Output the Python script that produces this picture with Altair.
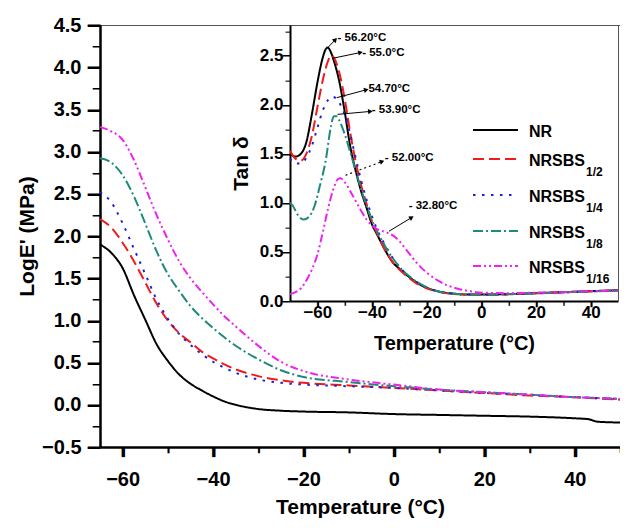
import math
import altair as alt
import pandas as pd

FONT = "Liberation Sans"
GLYPH_FONT = "DejaVu Sans"

SERIES = ["NR", "NRSBS1/2", "NRSBS1/4", "NRSBS1/8", "NRSBS1/16"]
LEG_MAIN = ["NR", "NRSBS", "NRSBS", "NRSBS", "NRSBS"]
LEG_SUB = ["", "1/2", "1/4", "1/8", "1/16"]
COLORS = ["#000000", "#ee1c1c", "#1f1fd6", "#1f8a7a", "#ee22ee"]
DASHES = [[1, 0], [11, 5], [2.5, 6.5], [10, 3, 2, 3], [8, 3, 2, 3, 2, 3]]

# ---------------- main panel: LogE' vs temperature ----------------
T_MAIN = [-65, -62.5, -60, -57.5, -55, -52.5, -50, -47.5, -45, -42.5, -40, -37.5, -35,
          -30, -25, -20, -10, 0, 10, 20, 30, 40, 43, 45, 50]
LOGE_NR = [1.90, 1.80, 1.62, 1.30, 1.01, 0.72, 0.52, 0.36, 0.25, 0.17, 0.10, 0.04, 0.00,
           -0.05, -0.07, -0.08, -0.09, -0.11, -0.12, -0.13, -0.14, -0.16, -0.17, -0.20, -0.21]
LOGE_12 = [2.20, 2.10, 1.92, 1.70, 1.45, 1.20, 1.00, 0.85, 0.74, 0.63, 0.55, 0.48, 0.42,
           0.34, 0.29, 0.26, 0.23, 0.20, 0.17, 0.14, 0.11, 0.09, 0.08, 0.075, 0.06]
LOGE_14 = [2.52, 2.40, 2.15, 1.85, 1.55, 1.25, 1.02, 0.84, 0.71, 0.60, 0.51, 0.44, 0.38,
           0.30, 0.26, 0.24, 0.22, 0.20, 0.17, 0.14, 0.12, 0.09, 0.085, 0.08, 0.07]
LOGE_18 = [2.92, 2.87, 2.72, 2.47, 2.15, 1.82, 1.55, 1.35, 1.17, 1.03, 0.91, 0.80, 0.70,
           0.54, 0.41, 0.33, 0.27, 0.22, 0.18, 0.15, 0.12, 0.09, 0.085, 0.08, 0.07]
LOGE_116 = [3.29, 3.24, 3.14, 2.90, 2.58, 2.25, 1.96, 1.70, 1.50, 1.34, 1.19, 1.05, 0.93,
            0.70, 0.51, 0.40, 0.30, 0.24, 0.18, 0.15, 0.12, 0.09, 0.085, 0.08, 0.07]

# ---------------- inset: tan delta vs temperature ----------------
TAIL_T = [-44, -42, -40, -38, -36, -34, -32, -30, -28, -26, -24, -22, -20, -16, -12, -8, -4,
          0, 10, 20, 30, 40, 50]
TAN_NR_T = [-70, -68, -66, -64, -62, -60, -58, -57, -56.2, -55, -54, -52, -50, -48, -46] + TAIL_T
TAN_NR = [1.50, 1.47, 1.50, 1.62, 1.90, 2.22, 2.48, 2.56, 2.58, 2.53, 2.45, 2.24, 1.93, 1.58, 1.33,
          1.12, 0.95, 0.78, 0.67, 0.56, 0.46, 0.38, 0.33, 0.28, 0.235, 0.195, 0.16, 0.135, 0.10,
          0.08, 0.07, 0.065, 0.065, 0.07, 0.08, 0.09, 0.10, 0.11]
TAN_12_T = [-70, -68, -66, -64, -62, -60, -58, -56, -55, -54, -52, -50, -48, -46] + TAIL_T
TAN_12 = [1.53, 1.45, 1.43, 1.50, 1.68, 1.97, 2.25, 2.45, 2.50, 2.48, 2.33, 2.06, 1.72, 1.42,
          1.18, 0.99, 0.81, 0.68, 0.56, 0.46, 0.38, 0.32, 0.27, 0.225, 0.185, 0.155, 0.13, 0.095,
          0.078, 0.068, 0.063, 0.063, 0.068, 0.078, 0.088, 0.098, 0.108]
TAN_14_T = [-70, -68, -66, -64, -62, -60, -58, -56, -54.7, -53, -52, -50, -48, -46] + TAIL_T
TAN_14 = [1.45, 1.40, 1.40, 1.46, 1.58, 1.76, 1.94, 2.05, 2.08, 2.06, 2.02, 1.90, 1.70, 1.46,
          1.23, 1.03, 0.86, 0.72, 0.61, 0.51, 0.42, 0.35, 0.29, 0.24, 0.20, 0.17, 0.14, 0.10,
          0.08, 0.07, 0.065, 0.065, 0.07, 0.078, 0.088, 0.098, 0.105]
TAN_18_T = [-70, -69, -67, -65, -63, -61, -59, -57, -55, -54, -53, -52, -50, -48, -46] + TAIL_T
TAN_18 = [1.00, 0.97, 0.87, 0.83, 0.86, 0.97, 1.18, 1.42, 1.78, 1.88, 1.88, 1.84, 1.70, 1.52, 1.33,
          1.14, 0.97, 0.82, 0.70, 0.60, 0.50, 0.42, 0.35, 0.29, 0.245, 0.20, 0.17, 0.14, 0.10,
          0.08, 0.07, 0.065, 0.065, 0.07, 0.078, 0.088, 0.098, 0.105]
TAN_116_T = [-70, -68, -66, -64, -62, -60, -58, -56, -54, -52.5, -51.5, -50, -48, -46] + TAIL_T
TAN_116 = [0.07, 0.09, 0.13, 0.21, 0.32, 0.47, 0.70, 0.95, 1.15, 1.24, 1.25, 1.21, 1.12, 1.02,
           0.92, 0.83, 0.77, 0.73, 0.71, 0.69, 0.66, 0.61, 0.54, 0.47, 0.40, 0.34, 0.29, 0.21,
           0.155, 0.12, 0.10, 0.085, 0.08, 0.085, 0.09, 0.10, 0.105]

# peak annotations (label, text anchor T/value, arrow tail T/value, arrow head T/value)
ANN_LABEL = ["- 56.20°C", "- 55.0°C", "54.70°C", "- 53.90°C", "- 52.00°C", "- 32.80°C"]
ANN_TX = [-52.6, -43.6, -41.3, -40.1, -35.3, -26.6]
ANN_TY = [2.68, 2.52, 2.16, 1.94, 1.46, 0.97]
ANN_X1 = [-56.5, -54.6, -52.9, -52.6, -49.7, -33.8]
ANN_Y1 = [2.57, 2.47, 2.07, 1.90, 1.28, 0.71]
ANN_X2 = [-53.4, -44.2, -42.1, -40.6, -36.3, -25.5]
ANN_Y2 = [2.66, 2.53, 2.15, 1.93, 1.42, 0.85]
ANN_DOTTED = [False, False, False, False, True, False]

# tick values
MAIN_X_MAJOR = [-60, -40, -20, 0, 20, 40]
MAIN_X_MINOR = [-50, -30, -10, 10, 30, 50]
MAIN_Y_MAJOR = [-0.5, 0.0, 0.5, 1.0, 1.5, 2.0, 2.5, 3.0, 3.5, 4.0, 4.5]
MAIN_Y_MINOR = [-0.25, 0.25, 0.75, 1.25, 1.75, 2.25, 2.75, 3.25, 3.75, 4.25]
IN_X_MAJOR = [-60, -40, -20, 0, 20, 40]
IN_X_MINOR = [-50, -30, -10, 10, 30]
IN_Y_MAJOR = [0.0, 0.5, 1.0, 1.5, 2.0, 2.5]
IN_Y_MINOR = [0.25, 0.75, 1.25, 1.75, 2.25, 2.75]

# ---------------- layout ----------------
W, H = 520, 422
PAD_L, PAD_T, PAD_B = 92, 17, 72
MAIN_DOMAIN_X = [-65, 50]
MAIN_DOMAIN_Y = [-0.5, 4.5]
IN_X0, IN_X1 = 190, 518          # inset horizontal pixel range inside the main plot
IN_Y0 = 276                      # inset bottom (pixel from plot top)
IN_DOMAIN_X = [-70, 50]
IN_DOMAIN_Y = [0, 2.81]

color_scale = alt.Scale(domain=SERIES, range=COLORS)
dash_scale = alt.Scale(domain=SERIES, range=DASHES)

xs_main = alt.Scale(domain=MAIN_DOMAIN_X, nice=False, zero=False)
ys_main = alt.Scale(domain=MAIN_DOMAIN_Y, nice=False, zero=False)
xs_in = alt.Scale(domain=IN_DOMAIN_X, range=[IN_X0, IN_X1], nice=False, zero=False)
ys_in = alt.Scale(domain=IN_DOMAIN_Y, range=[IN_Y0, 0], nice=False, zero=False)

IX_U = (IN_DOMAIN_X[1] - IN_DOMAIN_X[0]) / (IN_X1 - IN_X0)
IY_U = (IN_DOMAIN_Y[1] - IN_DOMAIN_Y[0]) / IN_Y0

rows = []
for name, vals in zip(SERIES, [LOGE_NR, LOGE_12, LOGE_14, LOGE_18, LOGE_116]):
    for t, v in zip(T_MAIN, vals):
        rows.append({"series": name, "T": t, "v": v})
main_df = pd.DataFrame(rows)

rows = []
for name, ts, vals in zip(SERIES, [TAN_NR_T, TAN_12_T, TAN_14_T, TAN_18_T, TAN_116_T],
                          [TAN_NR, TAN_12, TAN_14, TAN_18, TAN_116]):
    for t, v in zip(ts, vals):
        rows.append({"series": name, "T": t, "v": v})
inset_df = pd.DataFrame(rows)

ann_df = pd.DataFrame({
    "label": ANN_LABEL, "tx": ANN_TX, "ty": ANN_TY,
    "x1": ANN_X1, "y1": ANN_Y1, "x2": ANN_X2, "y2": ANN_Y2, "dotted": ANN_DOTTED,
})
ann_df["ang"] = [
    math.degrees(math.atan2(-(b2 - b1) / IY_U, (a2 - a1) / IX_U)) % 360
    for a1, b1, a2, b2 in zip(ANN_X1, ANN_Y1, ANN_X2, ANN_Y2)
]

LEG_Y = [107, 136, 172, 208, 243]
leg_df = pd.DataFrame({"series": SERIES, "label": LEG_MAIN, "sub": LEG_SUB,
                       "ly": LEG_Y, "ly_line": [y - 2 for y in LEG_Y],
                       "ly_sub": [y + 11 for y in LEG_Y]})

AX = dict(domainColor="black", ticks=False)

main_x_axis = alt.Axis(
    orient="bottom", values=MAIN_X_MAJOR, domainWidth=2.5,
    labelFontSize=20, labelPadding=22, title="Temperature (°C)", titleFontSize=21,
    titlePadding=7, **AX,
)
main_y_axis = alt.Axis(
    orient="left", values=MAIN_Y_MAJOR, format=".1f", domainWidth=2.5,
    labelFontSize=20, labelPadding=19, title="LogE' (MPa)",
    titleFontSize=21, titlePadding=4, **AX,
)

main = alt.Chart(main_df).mark_line(strokeWidth=2, interpolate="monotone").encode(
    x=alt.X("T:Q", scale=xs_main, axis=main_x_axis),
    y=alt.Y("v:Q", scale=ys_main, axis=main_y_axis),
    color=alt.Color("series:N", scale=color_scale, legend=None),
    strokeDash=alt.StrokeDash("series:N", scale=dash_scale, legend=None),
)

# top border of main plot + right border of inset
frame = alt.Chart(inset_df).mark_line(opacity=0).encode(
    x=alt.X("T:Q", scale=xs_main,
            axis=alt.Axis(orient="top", labels=False, ticks=False, domain=True,
                          domainColor="#555555", domainWidth=1, title=None)),
    y=alt.Y("v:Q", scale=ys_in,
            axis=alt.Axis(orient="right", offset=IN_X1 - W, labels=False, ticks=False,
                          domain=True, domainColor="#555555", domainWidth=1, title=None)),
)

in_x_axis = alt.Axis(
    orient="bottom", offset=IN_Y0 - H, values=IN_X_MAJOR, domainWidth=2,
    labelFontSize=17, labelPadding=3, title="Temperature (°C)",
    titleFontSize=20, titlePadding=13, **AX,
)
in_y_axis = alt.Axis(
    orient="left", offset=-IN_X0, values=IN_Y_MAJOR, format=".1f", domainWidth=2,
    labelFontSize=17, labelPadding=7, title="Tan δ", titleFontSize=21, titlePadding=8, **AX,
)

inset = alt.Chart(inset_df).mark_line(strokeWidth=2, interpolate="monotone").encode(
    x=alt.X("T:Q", scale=xs_in, axis=in_x_axis),
    y=alt.Y("v:Q", scale=ys_in, axis=in_y_axis),
    color=alt.Color("series:N", scale=color_scale, legend=None),
    strokeDash=alt.StrokeDash("series:N", scale=dash_scale, legend=None),
)


# ---------------- tick marks, drawn as block-glyph labels of extra axes ----------------
def vtick_axis(values, length, offset=0):
    # right-half block, full em height: about 1.16*size tall, 0.3*size wide
    size = length / 1.164
    return alt.Axis(
        orient="bottom", offset=offset, values=values, labelExpr="'\u2590'",
        labelFont=GLYPH_FONT, labelFontWeight="normal", labelFontSize=size,
        labelColor="black", labelAlign="center", labelBaseline="top", labelPadding=0,
        labelOffset=-0.15 * size, labelOverlap=False, labelFlush=False,
        ticks=False, domain=False, grid=False, title=None,
    )


def htick_axis(values, length, offset=0):
    # lower one-eighth block: 0.6*size wide, 0.145*size tall
    size = length / 0.602
    return alt.Axis(
        orient="left", offset=offset, values=values, labelExpr="'\u2581'",
        labelFont=GLYPH_FONT, labelFontWeight="normal", labelFontSize=size,
        labelColor="black", labelAlign="right", labelBaseline="bottom", labelPadding=0,
        labelOffset=0.047 * size, labelOverlap=False, labelFlush=False,
        ticks=False, domain=False, grid=False, title=None,
    )


def tick_layer(df, xs, ys, x_axis, y_axis):
    return alt.Chart(df).mark_line(opacity=0).encode(
        x=alt.X("T:Q", scale=xs, axis=x_axis),
        y=alt.Y("v:Q", scale=ys, axis=y_axis),
    )


tick_layers = [
    tick_layer(main_df, xs_main, ys_main,
               vtick_axis(MAIN_X_MAJOR, 10), htick_axis(MAIN_Y_MAJOR, 10)),
    tick_layer(main_df, xs_main, ys_main,
               vtick_axis(MAIN_X_MINOR, 6), htick_axis(MAIN_Y_MINOR, 6)),
    tick_layer(inset_df, xs_in, ys_in,
               vtick_axis(IN_X_MAJOR, 6, IN_Y0 - H), htick_axis(IN_Y_MAJOR, 6, -IN_X0)),
    tick_layer(inset_df, xs_in, ys_in,
               vtick_axis(IN_X_MINOR, 4, IN_Y0 - H), htick_axis(IN_Y_MINOR, 4, -IN_X0)),
]

ann_text = alt.Chart(ann_df).mark_text(
    align="left", baseline="middle", font=FONT, fontSize=11.5, fontWeight="bold", color="black"
).encode(
    x=alt.X("tx:Q", scale=xs_in, axis=None),
    y=alt.Y("ty:Q", scale=ys_in, axis=None),
    text="label:N",
)
ann_solid = alt.Chart(ann_df).transform_filter("!datum.dotted").mark_rule(
    strokeWidth=1, color="black"
).encode(
    x=alt.X("x1:Q", scale=xs_in, axis=None), y=alt.Y("y1:Q", scale=ys_in, axis=None),
    x2="x2:Q", y2="y2:Q",
)
ann_dotted = alt.Chart(ann_df).transform_filter("datum.dotted").mark_rule(
    strokeWidth=1.2, color="black", strokeDash=[2, 3]
).encode(
    x=alt.X("x1:Q", scale=xs_in, axis=None), y=alt.Y("y1:Q", scale=ys_in, axis=None),
    x2="x2:Q", y2="y2:Q",
)
ann_head = alt.Chart(ann_df).mark_point(
    shape="triangle-right", filled=True, size=28, color="black", opacity=1
).encode(
    x=alt.X("x2:Q", scale=xs_in, axis=None), y=alt.Y("y2:Q", scale=ys_in, axis=None),
    angle=alt.Angle("ang:Q", scale=None),
)

leg_lines = alt.Chart(leg_df).mark_rule(strokeWidth=2).encode(
    x=alt.value(373), x2=alt.value(418),
    y=alt.Y("ly_line:Q", scale=None, axis=None),
    color=alt.Color("series:N", scale=color_scale, legend=None),
    strokeDash=alt.StrokeDash("series:N", scale=dash_scale, legend=None),
)
leg_text = alt.Chart(leg_df).mark_text(
    align="left", baseline="middle", font=FONT, fontSize=16, fontWeight="bold", color="black"
).encode(x=alt.value(429), y=alt.Y("ly:Q", scale=None, axis=None), text="label:N")
leg_sub = alt.Chart(leg_df).mark_text(
    align="left", baseline="middle", font=FONT, fontSize=12, fontWeight="bold", color="black"
).encode(x=alt.value(486), y=alt.Y("ly_sub:Q", scale=None, axis=None), text="sub:N")

chart = alt.layer(
    main, frame, inset, *tick_layers, ann_solid, ann_dotted, ann_head, ann_text,
    leg_lines, leg_text, leg_sub,
).resolve_scale(x="independent", y="independent").properties(
    width=W, height=H,
    autosize=alt.AutoSizeParams(type="none"),
    padding={"left": PAD_L, "top": PAD_T, "right": 0, "bottom": PAD_B},
).configure_view(stroke=None).configure_axis(
    labelFont=FONT, titleFont=FONT, labelFontWeight="bold", titleFontWeight="bold",
    labelColor="black", titleColor="black", grid=False,
)

chart.save("out.html", embed_options={"renderer": "svg", "actions": False})
